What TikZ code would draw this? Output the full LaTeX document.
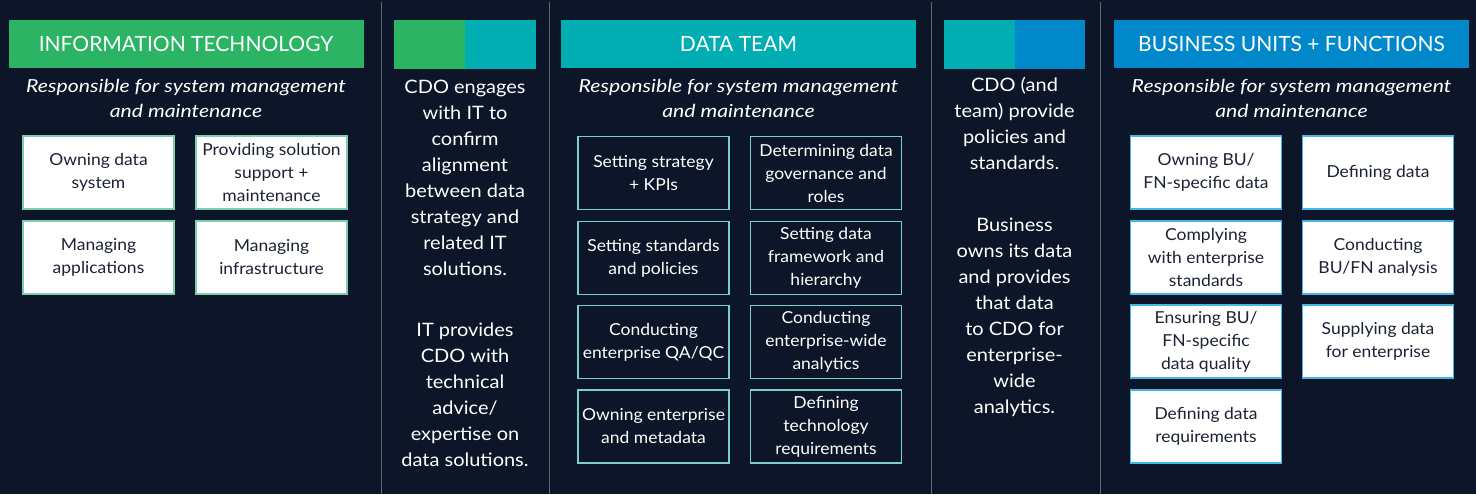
\documentclass[tikz,border=0pt]{standalone}
\usepackage{fontspec}
\setmainfont{Lato}
\newfontfamily\subfont{Lato}[FakeStretch=1.18]
\newfontfamily\bodyfont{Lato}[FakeStretch=1.08]
\newfontfamily\boxfont{Lato}[FakeStretch=1.06]
\usepackage{xcolor}
\definecolor{navybg}{HTML}{0C1628}
\definecolor{itgreen}{HTML}{2AB463}
\definecolor{dtteal}{HTML}{00ADB3}
\definecolor{bublue}{HTML}{0088CA}
\definecolor{itmint}{HTML}{7DCDAE}
\definecolor{dtmint}{HTML}{7ACFCC}
\definecolor{busky}{HTML}{45B6E6}
\definecolor{sepgray}{HTML}{5E6676}
\definecolor{boxtext}{HTML}{1B2233}

\begin{document}
\begin{tikzpicture}[x=1pt, y=-1pt,
    hdr/.style={text=white, inner sep=0pt, minimum width=355pt, minimum height=48pt, font=\fontsize{21}{24}\selectfont},
    sub/.style={text=white, align=center, font=\subfont\fontsize{18}{25}\selectfont\itshape},
    body/.style={text=white, align=center, font=\bodyfont\fontsize{18.5}{26}\selectfont},
    itbox/.style={draw=itmint, fill=white, line width=1.6pt, text=boxtext, minimum width=151pt, minimum height=73pt, inner sep=1pt, align=center, font=\boxfont\fontsize{16.5}{23}\selectfont},
    dtbox/.style={itbox, draw=dtmint, fill=navybg, text=white},
    bubox/.style={itbox, draw=busky},
    sep/.style={sepgray, line width=1pt}]
    % background
    \fill[navybg] (0,0) rectangle (1476,494);
    \draw[sep] (381,2) -- (381,494);
    \draw[sep] (549,2) -- (549,494);
    \draw[sep] (931,2) -- (931,494);
    \draw[sep] (1100,2) -- (1100,494);

    % information technology
    \node[hdr, fill=itgreen] (ithead) at (186,44) {INFORMATION TECHNOLOGY};
    \node[sub] (itsub) at (186,98.5) {Responsible for system management\\and maintenance};
    \node[itbox] (itown) at (98.5,172.5) {Owning data\\system};
    \node[itbox] (itsupport) at (271.5,172.5) {Providing solution\\support +\\maintenance};
    \node[itbox] (itapps) at (98.5,257.5) {Managing\\applications};
    \node[itbox] (itinfra) at (271.5,257.5) {Managing\\infrastructure};

    % cdo and it
    \fill[itgreen] (394,20) rectangle (465,69);
    \fill[dtteal] (465,20) rectangle (536,69);
    \node[body] (cdoit) at (465,177.5) {CDO engages\\with IT to\\confirm\\alignment\\between data\\strategy and\\related IT\\solutions.};
    \node[body] (itcdo) at (465,394.5) {IT provides\\CDO with\\technical\\advice/\\expertise on\\data solutions.};

    % data team
    \node[hdr, fill=dtteal] (dthead) at (738.5,44) {DATA TEAM};
    \node[sub] (dtsub) at (738.5,98.5) {Responsible for system management\\and maintenance};
    \node[dtbox] (dtstrat) at (653.5,173) {Setting strategy\\+ KPIs};
    \node[dtbox] (dtgov) at (826,173) {Determining data\\governance and\\roles};
    \node[dtbox] (dtstd) at (653.5,258) {Setting standards\\and policies};
    \node[dtbox] (dtframe) at (826,258) {Setting data\\framework and\\hierarchy};
    \node[dtbox] (dtqa) at (653.5,342) {Conducting\\enterprise QA/QC};
    \node[dtbox] (dtana) at (826,342) {Conducting\\enterprise-wide\\analytics};
    \node[dtbox] (dtmeta) at (653.5,426.5) {Owning enterprise\\and metadata};
    \node[dtbox] (dttech) at (826,426.5) {Defining\\technology\\requirements};

    % cdo and business
    \fill[dtteal] (944,20) rectangle (1015,69);
    \fill[bublue] (1015,20) rectangle (1085,69);
    \node[body] (cdobu) at (1014.5,123.5) {CDO (and\\team) provide\\policies and\\standards.};
    \node[body] (bucdo) at (1014.5,317.5) {Business\\owns its data\\and provides\\that data\\to CDO for\\enterprise-\\wide\\analytics.};

    % business units
    \node[hdr, fill=bublue] (buhead) at (1291.5,44) {BUSINESS UNITS + FUNCTIONS};
    \node[sub] (busub) at (1291.5,98.5) {Responsible for system management\\and maintenance};
    \node[bubox] (buown) at (1206,172.5) {Owning BU/\\FN-specific data};
    \node[bubox] (budef) at (1378,172.5) {Defining data};
    \node[bubox] (bucomply) at (1206,257.5) {Complying\\with enterprise\\standards};
    \node[bubox] (buana) at (1378,257.5) {Conducting\\BU/FN analysis};
    \node[bubox] (buqual) at (1206,341.5) {Ensuring BU/\\FN-specific\\data quality};
    \node[bubox] (busupply) at (1378,341.5) {Supplying data\\for enterprise};
    \node[bubox] (bureq) at (1206,426.5) {Defining data\\requirements};
\end{tikzpicture}
\end{document}
